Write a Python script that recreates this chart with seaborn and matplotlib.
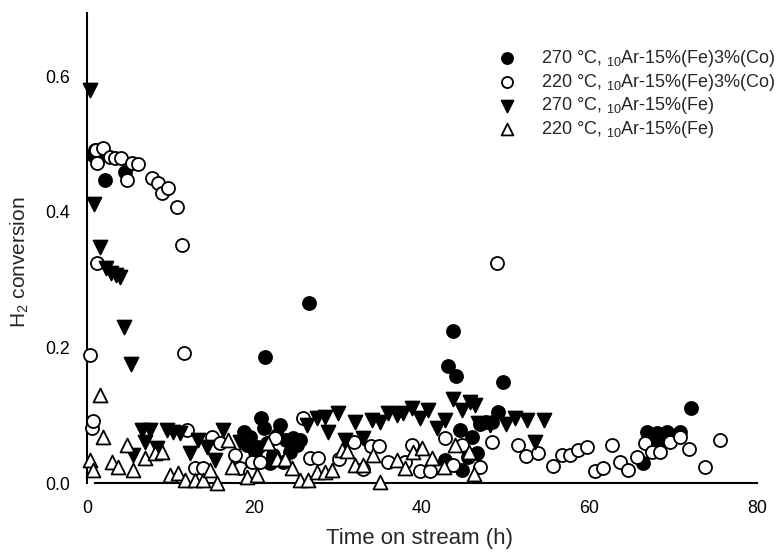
import matplotlib
matplotlib.use("Agg")
import matplotlib.pyplot as plt
import seaborn as sns
import pandas as pd

# 270 °C, 10Ar-15%(Fe)3%(Co)
feco_270_t = [0.7, 1.0, 1.2, 2.1, 4.5, 18.7, 19.1, 19.5, 20.1, 20.4, 20.8, 21.1, 21.3,
              21.5, 21.9, 22.2, 22.7, 23.0, 23.4, 23.8, 24.2, 24.6, 25.1, 25.4, 26.5,
              42.7, 43.1, 43.7, 44.1, 44.5, 44.8, 45.5, 46.0, 46.6, 46.9, 47.6, 48.4,
              49.1, 49.7, 66.4, 66.9, 67.5, 68.1, 68.4, 69.3, 70.0, 70.8, 72.1]
feco_270_x = [0.483, 0.491, 0.476, 0.447, 0.458, 0.075, 0.056, 0.068, 0.046, 0.053, 0.096,
              0.081, 0.186, 0.059, 0.029, 0.041, 0.071, 0.085, 0.031, 0.063, 0.046, 0.066,
              0.056, 0.063, 0.265, 0.034, 0.172, 0.224, 0.158, 0.078, 0.019, 0.038, 0.068,
              0.044, 0.087, 0.090, 0.090, 0.105, 0.149, 0.029, 0.075, 0.068, 0.074, 0.060,
              0.075, 0.068, 0.075, 0.111]

# 220 °C, 10Ar-15%(Fe)3%(Co)
feco_220_t = [0.4, 0.6, 0.7, 1.1, 1.2, 1.2, 1.9, 2.7, 3.3, 4.1, 4.8, 5.4, 6.1, 7.8, 8.5,
              9.0, 9.7, 10.7, 11.3, 11.6, 11.9, 12.9, 13.9, 14.9, 15.9, 17.7, 18.3, 19.5,
              19.7, 20.7, 22.4, 25.8, 26.6, 27.6, 30.1, 31.9, 33.0, 33.9, 34.9, 35.9, 38.0,
              38.8, 39.8, 41.0, 42.7, 43.7, 44.8, 46.9, 48.4, 49.0, 51.5, 52.4, 53.9, 55.6,
              56.7, 57.7, 58.6, 59.7, 60.7, 61.6, 62.7, 63.6, 64.6, 65.7, 66.6, 67.5, 68.4,
              69.6, 70.8, 71.9, 73.8, 75.6]
feco_220_x = [0.189, 0.081, 0.091, 0.491, 0.472, 0.324, 0.494, 0.480, 0.479, 0.479, 0.447,
              0.472, 0.470, 0.450, 0.442, 0.427, 0.435, 0.407, 0.351, 0.192, 0.078, 0.022,
              0.022, 0.068, 0.059, 0.041, 0.022, 0.016, 0.031, 0.031, 0.066, 0.096, 0.037,
              0.037, 0.035, 0.060, 0.021, 0.055, 0.055, 0.031, 0.031, 0.056, 0.018, 0.018,
              0.066, 0.027, 0.056, 0.024, 0.060, 0.324, 0.056, 0.040, 0.044, 0.025, 0.041,
              0.041, 0.049, 0.053, 0.018, 0.022, 0.056, 0.031, 0.019, 0.038, 0.059, 0.046,
              0.046, 0.060, 0.068, 0.050, 0.024, 0.063]

# 270 °C, 10Ar-15%(Fe)
fe_270_t = [0.4, 0.8, 1.6, 2.3, 2.9, 3.5, 3.9, 4.4, 5.3, 5.5, 6.6, 6.9, 7.5, 8.4, 9.6,
            10.3, 11.1, 12.3, 13.3, 14.3, 15.3, 16.2, 18.3, 26.3, 27.5, 28.4, 28.8, 30.0,
            30.8, 32.0, 33.0, 34.0, 35.0, 35.9, 37.0, 37.7, 38.8, 39.8, 40.7, 41.8, 42.7,
            43.7, 44.8, 45.7, 46.3, 46.7, 48.1, 50.0, 51.1, 52.5, 53.5, 54.6]
fe_270_x = [0.579, 0.411, 0.348, 0.317, 0.310, 0.307, 0.304, 0.230, 0.175, 0.041, 0.078,
            0.060, 0.078, 0.052, 0.078, 0.075, 0.074, 0.044, 0.063, 0.053, 0.034, 0.078,
            0.060, 0.085, 0.096, 0.097, 0.075, 0.103, 0.063, 0.090, 0.066, 0.093, 0.090,
            0.103, 0.100, 0.103, 0.111, 0.096, 0.108, 0.081, 0.093, 0.124, 0.108, 0.119,
            0.115, 0.088, 0.085, 0.087, 0.096, 0.093, 0.060, 0.093]

# 220 °C, 10Ar-15%(Fe)
fe_220_t = [0.4, 0.7, 1.6, 1.9, 3.0, 3.7, 4.8, 5.5, 6.9, 8.1, 9.0, 9.9, 10.9, 11.7, 12.9,
            13.9, 14.7, 15.5, 16.8, 17.3, 19.1, 20.3, 21.6, 22.7, 23.6, 24.5, 25.4, 26.4,
            27.5, 28.4, 29.3, 30.4, 31.0, 32.0, 33.0, 34.1, 35.0, 37.0, 38.0, 38.9, 40.0,
            41.2, 42.6, 43.9, 45.6, 46.2]
fe_220_x = [0.034, 0.019, 0.130, 0.068, 0.031, 0.024, 0.056, 0.019, 0.037, 0.044, 0.046,
            0.012, 0.015, 0.004, 0.004, 0.004, 0.019, 0.000, 0.063, 0.024, 0.009, 0.012,
            0.059, 0.035, 0.035, 0.022, 0.004, 0.004, 0.016, 0.016, 0.019, 0.049, 0.047,
            0.027, 0.027, 0.041, 0.001, 0.034, 0.022, 0.046, 0.052, 0.037, 0.024, 0.056,
            0.046, 0.013]

series_labels = [
    "270 °C, $_{10}$Ar-15%(Fe)3%(Co)",
    "220 °C, $_{10}$Ar-15%(Fe)3%(Co)",
    "270 °C, $_{10}$Ar-15%(Fe)",
    "220 °C, $_{10}$Ar-15%(Fe)",
]
x_ticks = [0, 20, 40, 60, 80]
y_ticks = [0.0, 0.2, 0.4, 0.6]
y_tick_labels = ["0.0", "0.2", "0.4", "0.6"]

sns.set_style("white")
plt.rcParams["font.family"] = ["Liberation Sans", "DejaVu Sans"]
plt.rcParams["mathtext.fontset"] = "custom"
plt.rcParams["mathtext.rm"] = "Liberation Sans"
plt.rcParams["mathtext.it"] = "Liberation Sans"
plt.rcParams["mathtext.default"] = "regular"

fig = plt.figure(figsize=(7.84, 5.52), dpi=100)
ax = fig.add_axes([87 / 784, 1 - 483 / 552, 670 / 784, 470 / 552])

styles = [
    (feco_270_t, feco_270_x, "o", "black", 88),
    (feco_220_t, feco_220_x, "o", "white", 88),
    (fe_270_t, fe_270_x, "v", "black", 100),
    (fe_220_t, fe_220_x, "^", "white", 100),
]
for (t, conv, marker, face, size), label in zip(styles, series_labels):
    df = pd.DataFrame({"time": t, "conversion": conv})
    sns.scatterplot(data=df, x="time", y="conversion", ax=ax, marker=marker,
                    color=face, edgecolor="black", linewidth=1.3, s=size,
                    label=label, zorder=3, clip_on=False)

ax.set_xlim(0, 80)
ax.set_ylim(0, 0.693)
ax.set_xticks(x_ticks)
ax.set_yticks(y_ticks)
ax.set_yticklabels(y_tick_labels)

for side in ["top", "right"]:
    ax.spines[side].set_visible(False)
for side in ["left", "bottom"]:
    ax.spines[side].set_color("black")
    ax.spines[side].set_linewidth(1.5)
ax.spines["bottom"].set_bounds(0.9, 80)

# white tick marks leave small breaks in the axis lines
ax.tick_params(axis="both", which="major", direction="inout", length=5, width=2.5,
               color="white", labelsize=12.8, labelcolor="black", pad=10)

ax.set_xlabel("Time on stream (h)", fontsize=16)
ax.set_ylabel("H$_2$ conversion", fontsize=15)
ax.xaxis.set_label_coords(0.496, -0.095)
ax.yaxis.set_label_coords(-0.083, 0.47)

leg = ax.legend(loc="upper left", bbox_to_anchor=(498 / 784, 1 - 48 / 552),
                bbox_transform=fig.transFigure, frameon=False, fontsize=13,
                handlelength=1.0, handletextpad=1.4, borderpad=0, borderaxespad=0,
                labelspacing=0.15, markerscale=0.85)

fig.savefig("out.png", dpi=100, facecolor="white")
